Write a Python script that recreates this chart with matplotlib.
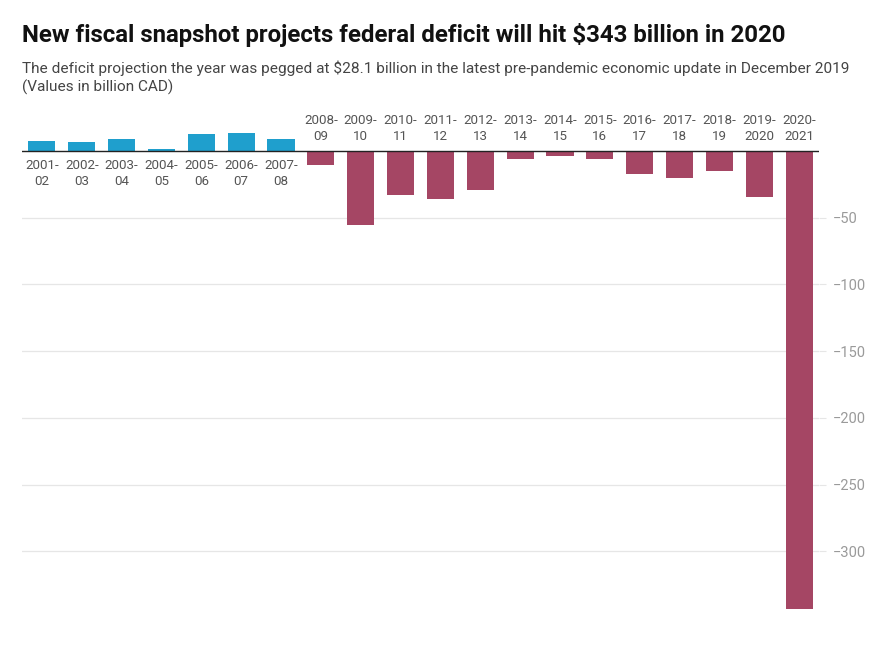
import numpy as np
import matplotlib.pyplot as plt

plt.rcParams["font.family"] = ["Roboto", "DejaVu Sans"]

years = ["2001-\n02", "2002-\n03", "2003-\n04", "2004-\n05", "2005-\n06", "2006-\n07",
         "2007-\n08", "2008-\n09", "2009-\n10", "2010-\n11", "2011-\n12", "2012-\n13",
         "2013-\n14", "2014-\n15", "2015-\n16", "2016-\n17", "2017-\n18", "2018-\n19",
         "2019-\n2020", "2020-\n2021"]
balance = [7.5, 6.7, 9.0, 1.5, 13.0, 13.6, 9.2, -10.5, -55.8, -32.7, -35.7, -29.0,
           -5.8, -3.5, -5.8, -17.0, -20.0, -14.7, -34.2, -343.2]
yticks = [-50, -100, -150, -200, -250, -300]

blue = "#1f9fcd"
red = "#a54664"

fig = plt.figure(figsize=(8.78, 6.5), dpi=100)
ax = fig.add_axes([22/878, 40/650, (819-22)/878, (610-131)/650])

x = np.arange(len(balance))
colors = [blue if v >= 0 else red for v in balance]
ax.bar(x, balance, width=0.68, color=colors, zorder=2)
ax.axhline(0, color="#222222", lw=1, zorder=3)

ax.set_xlim(-0.5, len(balance) - 0.5)
ax.set_ylim(-344, 15)
ax.set_yticks(yticks)
ax.set_yticklabels(["\u2212" + str(-t) for t in yticks])
ax.yaxis.tick_right()
ax.tick_params(axis="y", length=5, color="#e6e6e6", labelcolor="#9a9a9a",
               labelsize=10.5, pad=5)
ax.set_xticks([])
ax.grid(axis="y", color="#e6e6e6", lw=0.9, zorder=0)
for s in ax.spines.values():
    s.set_visible(False)

# category labels: below the zero line for surpluses, above it for deficits
for xi, v, lab in zip(x, balance, years):
    if v >= 0:
        ax.annotate(lab, (xi, 0), xytext=(0, -6), textcoords="offset points",
                    ha="center", va="top", fontsize=9.6, color="#555555",
                    linespacing=1.25)
    else:
        ax.annotate(lab, (xi, 0), xytext=(0, 6), textcoords="offset points",
                    ha="center", va="bottom", fontsize=9.6, color="#555555",
                    linespacing=1.25)

fig.text(22/878, 1 - 42/650, "New fiscal snapshot projects federal deficit will hit $343 billion in 2020",
         fontsize=17.3, fontweight="bold", color="#111111", ha="left", va="baseline")
fig.text(22/878, 1 - 73/650, "The deficit projection the year was pegged at $28.1 billion in the latest pre-pandemic economic update in December 2019",
         fontsize=11.05, color="#444444", ha="left", va="baseline")
fig.text(22/878, 1 - 92/650, "(Values in billion CAD)",
         fontsize=11.05, color="#444444", ha="left", va="baseline")

fig.savefig("out.png", dpi=100)
